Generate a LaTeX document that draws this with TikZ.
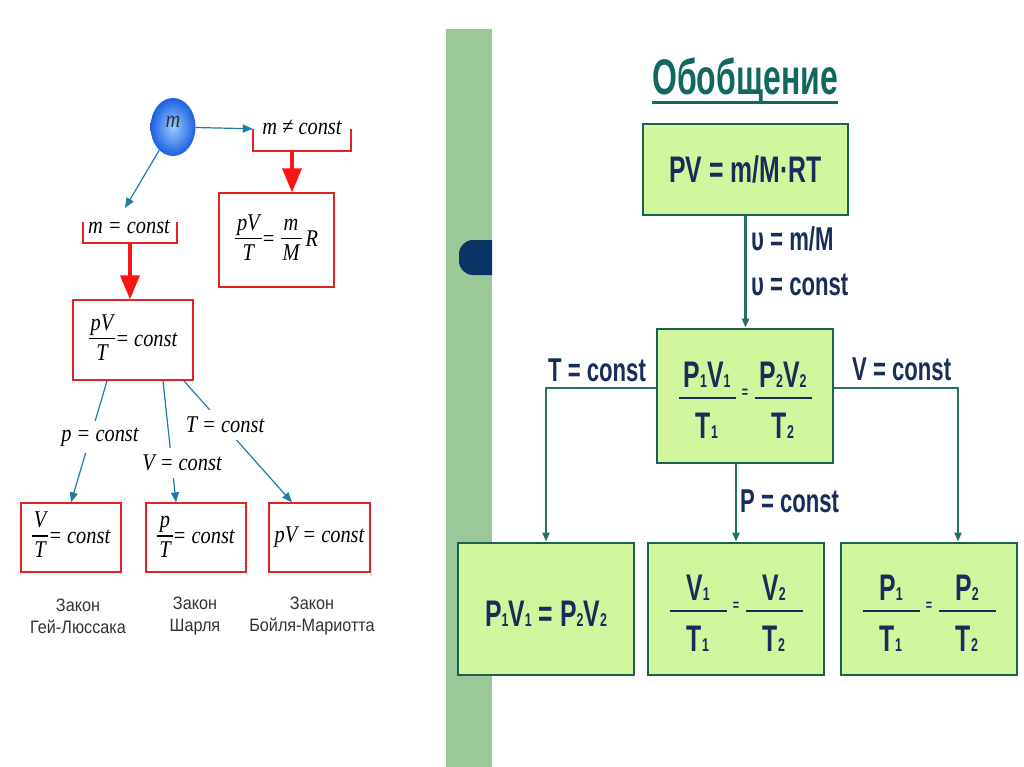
\documentclass[tikz,border=0pt]{standalone}
\usepackage{fontspec}
\usepackage{graphicx}
\usetikzlibrary{arrows.meta,shapes.geometric}

\newfontfamily\boxfont[FakeStretch=0.67]{Liberation Sans}
\newfontfamily\headfont[FakeStretch=0.64]{Liberation Sans}
\newfontfamily\lawfont[FakeStretch=0.85]{Liberation Serif}
\newfontfamily\namefont[FakeStretch=0.9]{Liberation Sans}

\definecolor{arrowteal}{RGB}{30,125,160}
\definecolor{lawred}{RGB}{225,35,35}
\definecolor{tipred}{RGB}{250,20,20}
\definecolor{ballblue}{RGB}{30,95,225}
\definecolor{balllight}{RGB}{150,205,255}
\definecolor{boxgreen}{RGB}{208,246,158}
\definecolor{boxedge}{RGB}{28,98,84}
\definecolor{linkgreen}{RGB}{38,112,98}
\definecolor{inkblue}{RGB}{25,45,90}
\definecolor{headteal}{RGB}{18,104,94}
\definecolor{stripgreen}{RGB}{155,200,152}
\definecolor{tabblue}{RGB}{10,52,100}

% small index at the baseline
\newcommand{\ix}[1]{{\fontsize{18.5}{18.5}\selectfont #1}}
% italic fraction of the left scheme
\newcommand{\lfrac}[2]{{\setlength{\arrayrulewidth}{1.4pt}\setlength{\tabcolsep}{2pt}%
  \begin{tabular}{c}#1\\\hline\rule{0pt}{21pt}#2\end{tabular}}}
% two fractions with a small equals sign
\newcommand{\gfrac}[4]{{\setlength{\arrayrulewidth}{2pt}\setlength{\tabcolsep}{0pt}%
  \renewcommand{\arraystretch}{0.85}%
  \begin{tabular}{ccc}\rule{0pt}{43pt}\makebox[57pt]{#1}&\makebox[19pt]{\raisebox{-10.5pt}[0pt][0pt]{\fontsize{16}{16}\selectfont=}}&\makebox[57pt]{#3}\\
  \cline{1-1}\cline{3-3}
  \rule{0pt}{42pt}#2&&#4\end{tabular}}}

\begin{document}
\begin{tikzpicture}[x=1pt,y=-1pt,
  lawtext/.style={font={\lawfont\itshape\fontsize{24}{26}\selectfont}},
  lawbox/.style={lawtext,draw=lawred,line width=1.3pt,inner sep=0pt},
  lawlabel/.style={lawtext,fill=white,inner xsep=2pt,inner ysep=7pt},
  lawname/.style={align=center,text=black!80,font={\namefont\fontsize{18}{22}\selectfont}},
  bracket/.style={draw=lawred,line width=1.5pt},
  tealarrow/.style={draw=arrowteal,line width=1.2pt,-{Triangle[width=8pt,length=10pt]}},
  redarrow/.style={draw=tipred,line width=3.5pt,-{Triangle[width=19pt,length=24pt]}},
  genbox/.style={draw=boxedge,line width=2.8pt,fill=boxgreen,text=inkblue,inner sep=0pt,
    font={\boxfont\bfseries\fontsize{37}{37}\selectfont}},
  condlabel/.style={anchor=base west,inner sep=0pt,text=inkblue,
    font={\boxfont\bfseries\fontsize{33}{33}\selectfont}},
  link/.style={draw=linkgreen,line width=2.2pt,-{Triangle[width=7pt,length=9pt]}}]

  \fill[white] (0,0) rectangle (1024,767);
  \useasboundingbox (0,0) rectangle (1024,767);

  % Left scheme: the ball and the two cases
  \node[ellipse,minimum width=45pt,minimum height=58pt,inner sep=0pt,inner color=balllight,
    outer color=ballblue,text=black!80,text depth=10pt,lawtext] (ball) at (173,127) {m};
  \node[lawtext] (neq) at (302,127) {m ≠ const};
  \node[minimum width=98pt,minimum height=22pt,inner sep=0pt] (neqb) at (302,140) {};
  \draw[bracket] (neqb.north west) |- (neqb.south east) -- (neqb.north east);
  \node[lawtext] (eq) at (129,227) {m = const};
  \node[minimum width=94pt,minimum height=21pt,inner sep=0pt] (eqb) at (130,232.5) {};
  \draw[bracket] (eqb.north west) |- (eqb.south east) -- (eqb.north east);

  \node[lawbox,minimum width=115pt,minimum height=94pt] (gas) at (276.5,240)
    {\lfrac{pV}{T}= \lfrac{m}{M}\,R};
  \node[lawbox,minimum width=120pt,minimum height=80pt] (pvt) at (133,340)
    {\lfrac{pV}{T}= const};

  \coordinate (mtip) at (125,208);
  \draw[tealarrow] (ball) -- (neqb.north west);
  \draw[tealarrow] (ball) -- (mtip);
  \draw[redarrow] ([xshift=-10pt]neqb.south) -- ([xshift=15.5pt]gas.north);
  \draw[redarrow] (eqb.south) -- (eqb.south |- pvt.north);

  % The three laws
  \node[lawbox,minimum width=100pt,minimum height=69pt] (A) at (71,537.5) {\lfrac{V}{T}= const};
  \node[lawbox,minimum width=100pt,minimum height=69pt] (B) at (196,537.5) {\lfrac{p}{T}= const};
  \node[lawbox,minimum width=101pt,minimum height=69pt] (C) at (319.5,537.5) {pV = const};

  \coordinate (s1) at (107,381);
  \coordinate (s2) at (163,381);
  \coordinate (s3) at (184,381);
  \draw[tealarrow] (s1) -- (A.north);
  \draw[tealarrow] (s2) -- ([xshift=-20pt]B.north);
  \draw[tealarrow] (s3) -- ([xshift=-27.5pt]C.north);
  \node[lawlabel] (plab) at (100,437) {p = const};
  \node[lawlabel] (vlab) at (182,463) {V = const};
  \node[lawlabel] (tlab) at (225,425) {T = const};

  \node[lawname] (nameA) at (78,616) {Закон\\Гей-Люссака};
  \node[lawname] (nameB) at (195,616) {Закон\\Шарля};
  \node[lawname] (nameC) at (312,616) {Закон\\Бойля-Мариотта};

  % Green strip with its tab
  \fill[stripgreen] (446,29) rectangle (492,767);
  \begin{scope}
    \clip (446,0) rectangle (492,767);
    \fill[tabblue,rounded corners=14pt] (459,240) rectangle (510,275);
  \end{scope}

  % Right scheme
  \node[anchor=base,inner sep=0pt,text=headteal,
    font={\headfont\bfseries\fontsize{50}{50}\selectfont}] (title) at (745,95) {Обобщение};
  \draw[headteal,line width=3pt] ([yshift=-7.5pt]title.base west) -- ([yshift=-7.5pt]title.base east);

  \node[genbox,minimum width=205pt,minimum height=91pt] (gen) at (745.5,169.5) {PV = m/M·RT};
  \node[genbox,minimum width=176pt,minimum height=134pt] (comb) at (745,396)
    {\gfrac{P\ix1V\ix1}{T\ix1}{P\ix2V\ix2}{T\ix2}};
  \node[genbox,minimum width=176pt,minimum height=132pt] (B1) at (546,609)
    {\rule{0pt}{34pt}P\ix1V\ix1 = P\ix2V\ix2};
  \node[genbox,minimum width=176pt,minimum height=132pt] (B2) at (736,609) {\gfrac{V\ix1}{T\ix1}{V\ix2}{T\ix2}};
  \node[genbox,minimum width=176pt,minimum height=132pt] (B3) at (929,609) {\gfrac{P\ix1}{T\ix1}{P\ix2}{T\ix2}};

  \draw[link] (gen.south) -- (gen.south |- comb.north);
  \draw[link] ([yshift=8pt]comb.west) -| (B1.north);
  \draw[link] ([yshift=8pt]comb.east) -| ([xshift=29pt]B3.north);
  \draw[link] (comb.south -| B2.north) -- (B2.north);

  \node[condlabel] (nu1) at (751,250) {υ = m/M};
  \node[condlabel] (nu2) at (751,295) {υ = const};
  \node[condlabel] (tcon) at (548,381) {T = const};
  \node[condlabel] (vcon) at (852,380) {V = const};
  \node[condlabel] (pcon) at (740,512) {P = const};
\end{tikzpicture}
\end{document}
